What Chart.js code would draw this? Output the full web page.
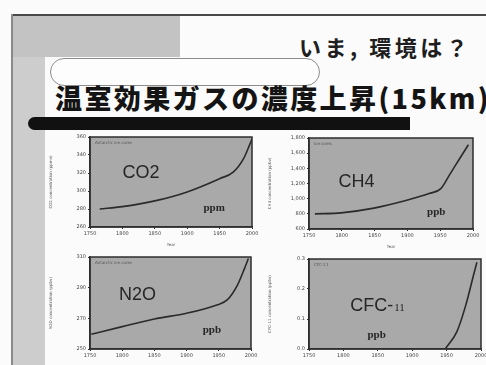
<!DOCTYPE html>
<html lang="ja">
<head>
<meta charset="utf-8">
<script src="https://cdn.jsdelivr.net/npm/chart.js@4.4.1/dist/chart.umd.min.js"></script>
<style>
  html, body { margin: 0; padding: 0; }
  body { width: 486px; height: 365px; overflow: hidden; position: relative; background: #fbfbfb;
         font-family: "Noto Sans CJK JP", "Noto Sans", sans-serif; }
  .abs { position: absolute; }
  #stripe { left: 12px; top: 15px; width: 33px; height: 350px; background: #cdcdcd; }
  #corner { left: 12px; top: 15px; width: 168px; height: 42px; background: #c3c3c3; }
  #frameTop { left: 12px; top: 14px; width: 474px; height: 2px; background: #4a4a4a; }
  #frameLeft { left: 11px; top: 14px; width: 2px; height: 351px; background: #8a8a8a; }
  #subtitle { left: 299px; top: 30px; font-size: 22px; font-weight: 700; color: #1e1e1e; letter-spacing: 3.5px; white-space: nowrap; }
  #pill { left: 50px; top: 58px; width: 268px; height: 26px; border: 1.5px solid #8c8c8c; border-radius: 14px; background: #fdfdfd; }
  #title { left: 55px; top: 78px; font-size: 27px; font-weight: 900; color: #141414; white-space: nowrap; letter-spacing: 2.4px; }
  #bar { left: 28px; top: 117px; width: 382px; height: 13px; background: #111; border-radius: 7px 0 0 7px; }
  canvas { position: absolute; }
</style>
</head>
<body>
<div class="abs" id="stripe"></div>
<div class="abs" id="corner"></div>
<div class="abs" id="frameTop"></div>
<div class="abs" id="frameLeft"></div>
<div class="abs" id="subtitle">いま, 環境は？</div>
<div class="abs" id="pill"></div>
<div class="abs" id="title">温室効果ガスの濃度上昇(15km)</div>
<div class="abs" id="bar"></div>

<canvas id="co2"></canvas>
<canvas id="ch4"></canvas>
<canvas id="n2o"></canvas>
<canvas id="cfc"></canvas>

<script>
// Shared year axis
const yearTicks = [1750, 1800, 1850, 1900, 1950, 2000];

// CO2 (ppm)
const co2Years  = [1765, 1800, 1850, 1900, 1950, 1971, 1987, 1997, 2000];
const co2Values = [280, 282.6, 289, 299, 313.7, 321, 336, 352.6, 358];
const co2Ticks  = [260, 280, 300, 320, 340, 360];

// CH4 (ppb)
const ch4Years  = [1759, 1799, 1849, 1899, 1933, 1951, 1964, 1980, 1993];
const ch4Values = [800, 813, 875, 978, 1067, 1133, 1311, 1533, 1711];
const ch4Ticks  = [600, 800, 1000, 1200, 1400, 1600, 1800];

// N2O (ppb)
const n2oYears  = [1752, 1800, 1850, 1900, 1947, 1963, 1979, 1990, 1996];
const n2oValues = [259.6, 264.6, 269.6, 273.3, 278.7, 282, 291.7, 302.6, 309];
const n2oTicks  = [250, 270, 290, 310];

// CFC-11 (ppb)
const cfcYears  = [1948, 1965, 1978, 1989, 1994];
const cfcValues = [0.0, 0.058, 0.147, 0.245, 0.289];
const cfcTicks  = [0.0, 0.1, 0.2, 0.3];

const INK = '#2e2e2e';
const PLOT_BG = '#a9a9a9';

// Gray plot face, frame and the big in-plot labels
const panelDecor = {
  id: 'panelDecor',
  beforeDraw(chart) {
    const { ctx, chartArea: a } = chart;
    ctx.save();
    ctx.fillStyle = PLOT_BG;
    ctx.fillRect(a.left, a.top, a.right - a.left, a.bottom - a.top);
    ctx.restore();
  },
  afterDraw(chart) {
    const { ctx, chartArea: a } = chart;
    const o = chart.options.plugins.panelDecor;
    const w = a.right - a.left, h = a.bottom - a.top;
    ctx.save();
    ctx.strokeStyle = INK;
    ctx.lineWidth = 1.5;
    ctx.strokeRect(a.left, a.top, w, h);
    // small caption in the upper left corner
    ctx.fillStyle = '#555';
    ctx.font = '4px "DejaVu Sans"';
    ctx.textBaseline = 'top';
    ctx.textAlign = 'left';
    ctx.fillText(o.caption, a.left + 5, a.top + 4);
    // gas name
    ctx.fillStyle = '#262626';
    ctx.textBaseline = 'middle';
    ctx.textAlign = 'left';
    ctx.font = '18px "Liberation Sans"';
    ctx.fillText(o.gas, a.left + o.gasPos[0] * w, a.top + o.gasPos[1] * h);
    if (o.gasSub) {
      const gw = ctx.measureText(o.gas).width;
      ctx.font = '11px "Liberation Serif"';
      ctx.fillText(o.gasSub, a.left + o.gasPos[0] * w + gw + 1, a.top + o.gasPos[1] * h + 2);
    }
    // unit
    ctx.font = 'bold 11px "Liberation Serif"';
    ctx.fillText(o.unit, a.left + o.unitPos[0] * w, a.top + o.unitPos[1] * h);
    ctx.restore();
  }
};

function makePanel(id, box, years, values, yTicks, opts) {
  const padL = 42, padT = 8, padR = 12, xH = 20;
  const cv = document.getElementById(id);
  const W = box.r - box.l + padL + padR;
  const H = box.b - box.t + padT + xH;
  cv.width = W; cv.height = H;
  cv.style.left = (box.l - padL) + 'px';
  cv.style.top = (box.t - padT) + 'px';
  cv.style.width = W + 'px'; cv.style.height = H + 'px';

  const tickFont = { family: 'DejaVu Sans', size: 5 };
  new Chart(cv, {
    type: 'line',
    data: {
      datasets: [{
        data: years.map((x, i) => ({ x, y: values[i] })),
        borderColor: '#2a2a2a',
        borderWidth: 1.6,
        pointRadius: 0,
        cubicInterpolationMode: 'monotone',
        fill: false
      }]
    },
    options: {
      responsive: false,
      animation: false,
      events: [],
      layout: { padding: { left: 0, top: padT, right: padR, bottom: 0 } },
      plugins: {
        legend: { display: false },
        tooltip: { enabled: false },
        panelDecor: opts
      },
      scales: {
        x: {
          type: 'linear',
          min: 1750, max: 2000,
          afterFit(s) { s.height = xH; },
          afterBuildTicks(s) { s.ticks = yearTicks.map(v => ({ value: v })); },
          ticks: { font: tickFont, color: '#444', padding: 2, callback: v => String(v) },
          grid: { drawOnChartArea: false, drawTicks: true, tickLength: 2, color: INK },
          border: { display: true, color: INK, width: 1.5 },
          title: { display: true, text: 'Year', font: { family: 'DejaVu Sans', size: 4 }, color: '#555', padding: 0 }
        },
        y: {
          type: 'linear',
          min: yTicks[0], max: yTicks[yTicks.length - 1],
          afterFit(s) { s.width = padL; },
          afterBuildTicks(s) { s.ticks = yTicks.map(v => ({ value: v })); },
          ticks: {
            font: tickFont, color: '#444', padding: 2,
            callback: v => opts.fmt ? opts.fmt(v) : String(v)
          },
          grid: { drawOnChartArea: false, drawTicks: true, tickLength: 2, color: INK },
          border: { display: true, color: INK, width: 1.5 },
          title: { display: true, text: opts.yTitle, font: { family: 'DejaVu Sans', size: 4 }, color: '#555', padding: 1 }
        }
      }
    },
    plugins: [panelDecor]
  });
}

makePanel('co2', { l: 90, t: 137, r: 252, b: 227 }, co2Years, co2Values, co2Ticks, {
  caption: 'Antarctic ice cores', gas: 'CO2', gasPos: [0.2, 0.4], unit: 'ppm', unitPos: [0.7, 0.79],
  yTitle: 'CO2 concentration (ppmv)'
});
makePanel('ch4', { l: 309, t: 138, r: 473, b: 229 }, ch4Years, ch4Values, ch4Ticks, {
  caption: 'Ice cores', gas: 'CH4', gasPos: [0.18, 0.48], unit: 'ppb', unitPos: [0.72, 0.82],
  yTitle: 'CH4 concentration (ppbv)', fmt: v => v.toLocaleString('en-US')
});
makePanel('n2o', { l: 90, t: 257, r: 251, b: 349 }, n2oYears, n2oValues, n2oTicks, {
  caption: 'Antarctic ice cores', gas: 'N2O', gasPos: [0.18, 0.41], unit: 'ppb', unitPos: [0.7, 0.8],
  yTitle: 'N2O concentration (ppbv)'
});
makePanel('cfc', { l: 309, t: 259, r: 481, b: 349 }, cfcYears, cfcValues, cfcTicks, {
  caption: 'CFC-11', gas: 'CFC-', gasSub: '11', gasPos: [0.24, 0.52], unit: 'ppb', unitPos: [0.34, 0.85],
  yTitle: 'CFC-11 concentration (ppbv)', fmt: v => v.toFixed(1)
});
</script>
</body>
</html>
